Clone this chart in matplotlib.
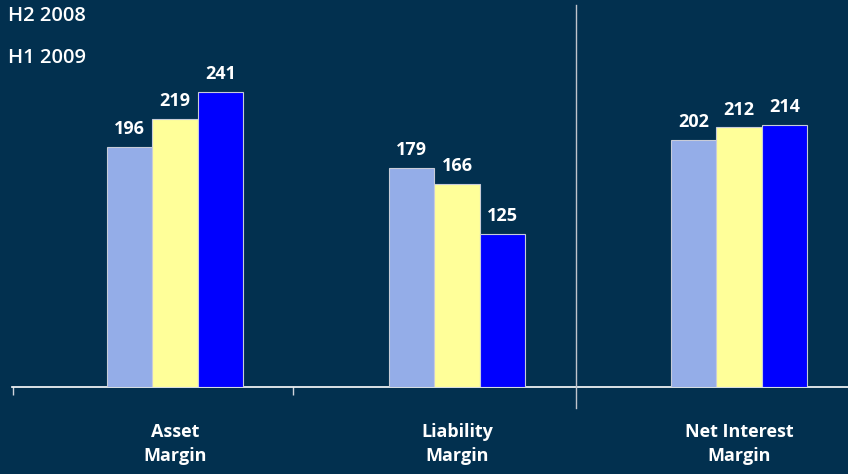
import matplotlib
matplotlib.use("Agg")
import matplotlib.pyplot as plt
from matplotlib.lines import Line2D
import numpy as np

categories = ["Asset\nMargin", "Liability\nMargin", "Net Interest\nMargin"]
series_names = ["H1 2008", "H2 2008", "H1 2009"]
h1_2008 = [196, 179, 202]
h2_2008 = [219, 166, 212]
h1_2009 = [241, 125, 214]
legend_labels = ["H2 2008", "H1 2009"]

colors = ["#94ADE8", "#FFFF99", "#0000FF"]
bg = "#02304F"

plt.rcParams['font.family'] = ['Open Sans', 'DejaVu Sans']

W, H = 848, 474
fig = plt.figure(figsize=(W / 100, H / 100), dpi=100, facecolor=bg)
ax = fig.add_axes([12 / W, 87 / H, (848 - 12) / W, 387 / H], facecolor=bg)

x = np.arange(len(categories))
bw = 0.161
for i, (vals, c) in enumerate(zip([h1_2008, h2_2008, h1_2009], colors)):
    pos = x + (i - 1) * bw
    bars = ax.bar(pos, vals, width=bw, color=c, edgecolor="#C8CCD8", linewidth=0.8,
                  label=series_names[i], zorder=3)
    for b, v in zip(bars, vals):
        ax.annotate(str(v), (b.get_x() + b.get_width() / 2, v), xytext=(0, 9),
                    textcoords="offset points", ha="center", va="baseline",
                    color="white", fontsize=13, fontweight="bold")

px = 282.0
ax.set_xlim(-(175 - 12) / px, (848 - 175) / px)
ax.set_ylim(0, 387 / 1.2245)

for s in ["top", "right", "left"]:
    ax.spines[s].set_visible(False)
ax.spines["bottom"].set_color("white")
ax.spines["bottom"].set_linewidth(1.2)
ax.set_yticks([])
ax.set_xticks([-(175 - 12) / px + 0.002, (293 - 175) / px])
ax.set_xticklabels([])
ax.tick_params(axis="x", direction="out", length=6, width=1, color="#D0D4DC")

for xi, lab in zip(x, categories):
    for j, line in enumerate(lab.split("\n")):
        ax.annotate(line, (xi, 0), xytext=(0, -(437 + 24 * j - 387) * 0.72),
                    textcoords="offset points", ha="center", va="baseline",
                    color="white", fontsize=13, fontweight="bold",
                    annotation_clip=False)

# separator line
fig.add_artist(Line2D([576 / W, 576 / W], [1 - 5 / H, 1 - 408 / H],
                      transform=fig.transFigure, color="#C0C4CC", linewidth=1))

for i, lab in enumerate(legend_labels):
    fig.text(8 / W, 1 - (21 + 42 * i) / H, lab, ha="left", va="baseline",
             color="white", fontsize=14.5, fontweight="semibold")

fig.savefig("out.png", dpi=100, facecolor=bg)
